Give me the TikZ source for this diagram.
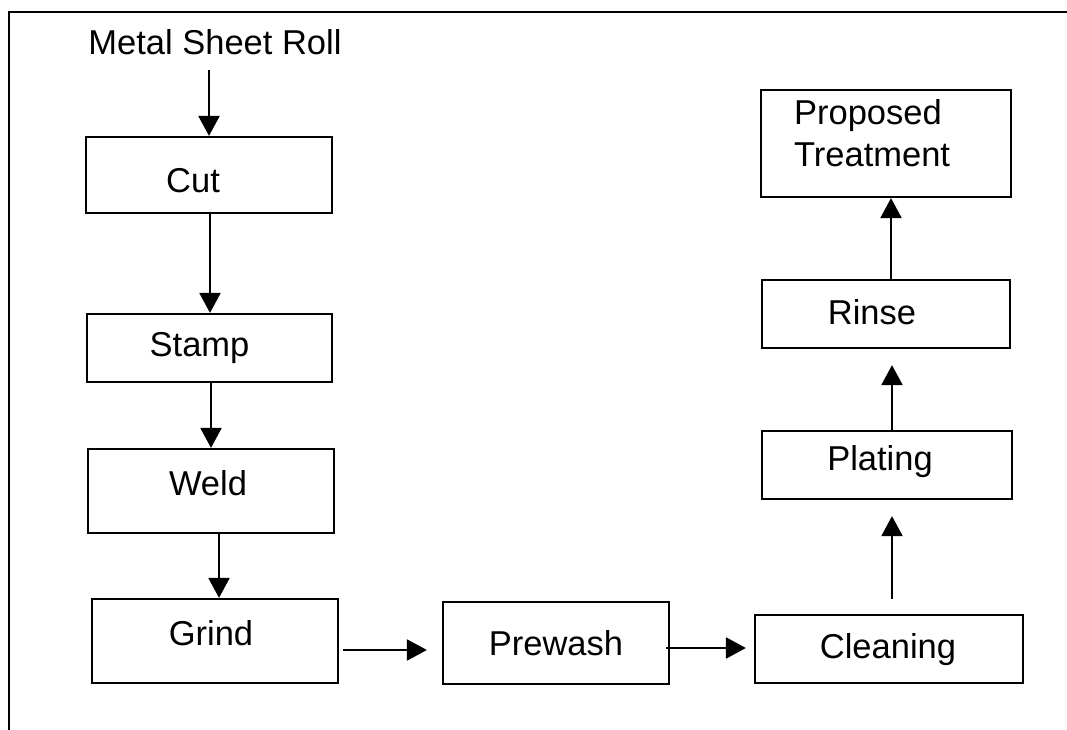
\documentclass[tikz,border=0pt]{standalone}
\usepackage{fontspec}
\setmainfont{Liberation Sans}
\usetikzlibrary{arrows.meta}
\begin{document}
\begin{tikzpicture}[x=1pt,y=-1pt,
  every node/.style={font=\fontsize{34.5}{42}\selectfont},
  procbox/.style={draw, line width=2.2pt, inner sep=0pt},
  arr/.style={line width=2.2pt, -{Triangle[length=20pt,width=21pt]}},
  frameline/.style={line width=2.4pt}]
\useasboundingbox (0,0) rectangle (1067,730);
\draw[frameline] (9,730) -- (9,12) -- (1067,12);

\node[anchor=base, text depth=0pt, inner ysep=15pt] (msr) at (215,55) {Metal Sheet Roll};

\node[procbox, minimum width=246pt, minimum height=76pt,
  label={[shift={(-16,6)}]center:Cut}] (cut) at (209,175) {};
\node[procbox, minimum width=245pt, minimum height=68pt,
  label={[shift={(-10,0)}]center:Stamp}] (stamp) at (209.5,348) {};
\node[procbox, minimum width=246pt, minimum height=84pt,
  label={[shift={(-3,-8)}]center:Weld}] (weld) at (211,491) {};
\node[procbox, minimum width=246pt, minimum height=84pt,
  label={[shift={(-4,-8)}]center:Grind}] (grind) at (215,641) {};
\node[procbox, minimum width=226pt, minimum height=82pt,
  label={[shift={(0,0)}]center:Prewash}] (prewash) at (556,643) {};
\node[procbox, minimum width=268pt, minimum height=68pt,
  label={[shift={(-1,1)}]center:Cleaning}] (cleaning) at (889,649) {};
\node[procbox, minimum width=250pt, minimum height=68pt,
  label={[shift={(-7,-3)}]center:Plating}] (plating) at (887,465) {};
\node[procbox, minimum width=248pt, minimum height=68pt,
  label={[shift={(-14,-2)}]center:Rinse}] (rinse) at (886,314) {};
\node[procbox, minimum width=250pt, minimum height=107pt,
  label={[anchor=north west, align=left, inner sep=0pt, shift={(34,10)}]north west:Proposed\\Treatment}] (pt) at (886,143.5) {};

\draw[arr] (msr.south -| cut.north) -- (cut.north);
\draw[arr] ([shift={(1,0)}]cut.south) -- ([shift={(0.5,0)}]stamp.north);
\draw[arr] ([shift={(1.5,0)}]stamp.south) -- (weld.north);
\draw[arr] ([shift={(8,0)}]weld.south) -- ([shift={(4,0)}]grind.north);
\draw[arr] ([shift={(4,9)}]grind.east) -- ([shift={(-15,7)}]prewash.west);
\draw[arr] ([shift={(-4,5)}]prewash.east) -- ([shift={(-8,-1)}]cleaning.west);
\draw[arr] ([shift={(3,-15)}]cleaning.north) -- ([shift={(5,16)}]plating.south);
\draw[arr] ([shift={(5,0)}]plating.north) -- ([shift={(6,16)}]rinse.south);
\draw[arr] ([shift={(5,0)}]rinse.north) -- ([shift={(5,0)}]pt.south);
\end{tikzpicture}
\end{document}
